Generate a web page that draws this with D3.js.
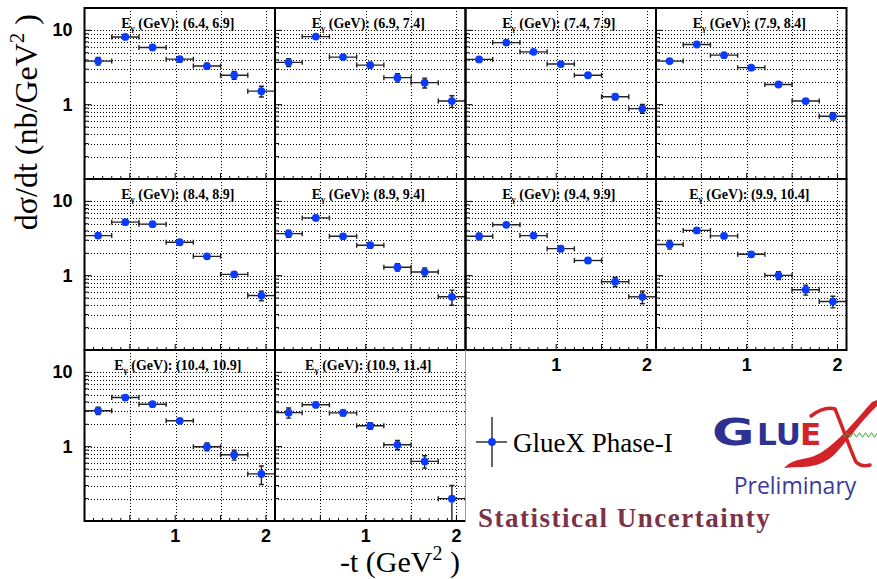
<!DOCTYPE html>
<html>
<head>
<meta charset="utf-8">
<script src="https://cdn.jsdelivr.net/npm/d3@7"></script>
<style>
  body { margin: 0; background: #fff; }
  svg { display: block; }
</style>
</head>
<body>
<svg id="chart" width="877" height="579"></svg>
<script>
// -t bins (GeV^2) and the point positions inside them
const binEdges = [0, 0.3, 0.6, 0.9, 1.2, 1.5, 1.8, 2.1];
const tValues = [0.15, 0.45, 0.75, 1.05, 1.35, 1.65, 1.95];

// beam energy bins, one per panel
const energyBins = ['(6.4, 6.9]', '(6.9, 7.4]', '(7.4, 7.9]', '(7.9, 8.4]', '(8.4, 8.9]',
                    '(8.9, 9.4]', '(9.4, 9.9]', '(9.9, 10.4]', '(10.4, 10.9]', '(10.9, 11.4]'];

// dsigma/dt (nb/GeV^2) and statistical errors
const xsec_64 = [3.86, 8.15, 5.88, 4.10, 3.31, 2.49, 1.52];
const err_64  = [0.45, 0.50, 0.35, 0.30, 0.30, 0.30, 0.25];
const xsec_69 = [3.71, 8.24, 4.37, 3.41, 2.31, 1.98, 1.12];
const err_69  = [0.45, 0.50, 0.30, 0.30, 0.30, 0.30, 0.20];
const xsec_74 = [4.07, 6.85, 5.14, 3.52, 2.49, 1.28, 0.885];
const err_74  = [0.25, 0.40, 0.30, 0.25, 0.15, 0.12, 0.12];
const xsec_79 = [3.86, 6.45, 4.64, 3.15, 1.87, 1.12, 0.70];
const err_79  = [0.20, 0.35, 0.25, 0.20, 0.10, 0.08, 0.08];
const xsec_84 = [3.46, 5.25, 4.94, 2.82, 1.82, 1.04, 0.54];
const err_84  = [0.25, 0.30, 0.25, 0.20, 0.12, 0.08, 0.08];
const xsec_89 = [3.68, 5.99, 3.39, 2.57, 1.30, 1.12, 0.52];
const err_89  = [0.40, 0.35, 0.25, 0.20, 0.15, 0.15, 0.12];
const xsec_94 = [3.39, 4.84, 3.46, 2.31, 1.60, 0.83, 0.52];
const err_94  = [0.35, 0.30, 0.25, 0.20, 0.12, 0.12, 0.10];
const xsec_99 = [2.63, 4.07, 3.43, 1.94, 1.01, 0.647, 0.449];
const err_99  = [0.35, 0.30, 0.25, 0.15, 0.12, 0.10, 0.08];
const xsec_104 = [3.05, 4.58, 3.73, 2.23, 1.00, 0.78, 0.43];
const err_104  = [0.35, 0.30, 0.25, 0.15, 0.12, 0.12, 0.12];
const xsec_109 = [2.87, 3.66, 2.85, 1.91, 1.06, 0.634, 0.20];
const err_109  = [0.45, 0.30, 0.25, 0.20, 0.15, 0.12, 0.10];

const yTickLabels = [1, 10];
const xTickLabels = [1, 2];

const allXsec = [xsec_64, xsec_69, xsec_74, xsec_79, xsec_84, xsec_89, xsec_94, xsec_99, xsec_104, xsec_109];
const allErr  = [err_64, err_69, err_74, err_79, err_84, err_89, err_94, err_99, err_104, err_109];

// layout
const pad_left = 84.5, pad_top = 8;
const colW = 190.5, rowH = 171;
const nCols = 4;
const markerColor = '#0a3cff';
const barColor = '#222';

const svg = d3.select('#chart');
const defs = svg.append('defs');

const x = d3.scaleLinear().domain([0, 2.1]).range([0, colW]);
const y = d3.scaleLog().domain([0.1, 20]).range([rowH, 0]);

defs.append('clipPath').attr('id', 'panelClip')
  .append('rect').attr('x', 0).attr('y', 0).attr('width', colW).attr('height', rowH);

energyBins.forEach((bin, i) => {
  const col = i % nCols, row = Math.floor(i / nCols);
  const g = svg.append('g')
    .attr('transform', `translate(${pad_left + col * colW},${pad_top + row * rowH})`);

  const pts = tValues.map((t, k) => ({
    t: t, lo: binEdges[k], hi: binEdges[k + 1], v: allXsec[i][k], e: allErr[i][k]
  }));

  // dotted grid
  const grid = g.append('g').attr('stroke', '#000').attr('stroke-width', 1)
    .attr('stroke-dasharray', '1,2').attr('shape-rendering', 'crispEdges');
  grid.selectAll('.hg')
    .data(y.ticks().filter(d => d > 0.1 && d < 20))
    .join('line')
      .attr('x1', 0).attr('x2', colW)
      .attr('y1', d => Math.round(y(d)) + 0.5).attr('y2', d => Math.round(y(d)) + 0.5);
  grid.selectAll('.vg')
    .data(x.ticks(4).filter(d => d > 0))
    .join('line')
      .attr('x1', d => Math.round(x(d)) + 0.5).attr('x2', d => Math.round(x(d)) + 0.5)
      .attr('y1', 0).attr('y2', rowH);

  // inner ticks, bottom
  g.append('g').selectAll('line')
    .data(x.ticks(21).filter(d => d > 0 && d < 2.1))
    .join('line')
      .attr('x1', d => x(d)).attr('x2', d => x(d))
      .attr('y1', rowH).attr('y2', d => rowH - (Math.abs(d * 2 - Math.round(d * 2)) < 1e-6 ? 6 : 3))
      .attr('stroke', '#000').attr('stroke-width', 1);
  // inner ticks, left
  g.append('g').selectAll('line')
    .data(y.ticks().filter(d => d > 0.1 && d < 20))
    .join('line')
      .attr('x1', 0).attr('x2', d => (yTickLabels.includes(d) ? 7 : 4))
      .attr('y1', d => y(d)).attr('y2', d => y(d))
      .attr('stroke', '#000').attr('stroke-width', 1);

  // data
  const dg = g.append('g').attr('clip-path', 'url(#panelClip)');
  const bars = dg.selectAll('g.pt').data(pts).join('g').attr('class', 'pt')
    .attr('stroke', barColor).attr('stroke-width', 1.4);
  bars.append('line')
    .attr('x1', d => x(d.lo)).attr('x2', d => x(d.hi))
    .attr('y1', d => y(d.v)).attr('y2', d => y(d.v));
  bars.append('line')
    .attr('x1', d => x(d.lo)).attr('x2', d => x(d.lo))
    .attr('y1', d => y(d.v) - 2.5).attr('y2', d => y(d.v) + 2.5);
  bars.append('line')
    .attr('x1', d => x(d.hi)).attr('x2', d => x(d.hi))
    .attr('y1', d => y(d.v) - 2.5).attr('y2', d => y(d.v) + 2.5);
  bars.append('line')
    .attr('x1', d => x(d.t)).attr('x2', d => x(d.t))
    .attr('y1', d => y(Math.max(d.v - d.e, 0.05))).attr('y2', d => y(d.v + d.e));
  bars.append('line')
    .attr('x1', d => x(d.t) - 2.5).attr('x2', d => x(d.t) + 2.5)
    .attr('y1', d => y(d.v + d.e)).attr('y2', d => y(d.v + d.e));
  bars.append('line')
    .attr('x1', d => x(d.t) - 2.5).attr('x2', d => x(d.t) + 2.5)
    .attr('y1', d => y(Math.max(d.v - d.e, 0.05))).attr('y2', d => y(Math.max(d.v - d.e, 0.05)));
  bars.append('circle')
    .attr('cx', d => x(d.t)).attr('cy', d => y(d.v)).attr('r', 3.9)
    .attr('fill', markerColor).attr('stroke', 'none');

  // frame
  if (i === energyBins.length - 1) {
    g.append('path').attr('d', `M${colW},0 L0,0 L0,${rowH} L${colW},${rowH}`)
      .attr('fill', 'none').attr('stroke', '#000').attr('stroke-width', 2);
    g.append('line').attr('x1', colW).attr('x2', colW).attr('y1', 0).attr('y2', rowH)
      .attr('stroke', '#999').attr('stroke-width', 1);
  } else {
    g.append('rect').attr('width', colW).attr('height', rowH)
      .attr('fill', 'none').attr('stroke', '#000').attr('stroke-width', 2);
  }

  // panel title
  const title = g.append('text')
    .attr('x', colW / 2 - 2).attr('y', 20)
    .attr('text-anchor', 'middle')
    .style('font', 'bold 14px "Liberation Serif", "Times New Roman", serif');
  title.append('tspan').text('E');
  title.append('tspan').attr('dy', 3).attr('font-size', 9).text('γ');
  title.append('tspan').attr('dy', -3).text(` (GeV): ${bin}`);

  // y labels on the first column
  if (col === 0) {
    g.selectAll('.ylab').data(yTickLabels).join('text')
      .attr('x', -12).attr('y', d => y(d) + 6)
      .attr('text-anchor', 'end')
      .style('font', 'bold 18px "Liberation Sans", Arial, sans-serif')
      .text(d => d);
  }
  // x labels where there is no panel below
  if (i + nCols >= energyBins.length) {
    g.selectAll('.xlab').data(xTickLabels).join('text')
      .attr('x', d => x(d)).attr('y', rowH + 21)
      .attr('text-anchor', 'middle')
      .style('font', 'bold 18px "Liberation Sans", Arial, sans-serif')
      .text(d => d);
  }
});

// axis titles
const yTitle = svg.append('text')
  .attr('transform', 'translate(37,14) rotate(-90)')
  .attr('text-anchor', 'end')
  .attr('font-family', 'Liberation Serif, Times New Roman, serif')
  .attr('font-size', 32);
yTitle.append('tspan').text('dσ/dt (nb/GeV');
yTitle.append('tspan').attr('dy', -13).attr('font-size', 21).text('2');
yTitle.append('tspan').attr('dy', 13).text(' )');

const xTitle = svg.append('text')
  .attr('x', 460).attr('y', 572)
  .attr('text-anchor', 'end')
  .attr('font-family', 'Liberation Serif, Times New Roman, serif')
  .attr('font-size', 30);
xTitle.append('tspan').text('-t (GeV');
xTitle.append('tspan').attr('dy', -12).attr('font-size', 20).text('2');
xTitle.append('tspan').attr('dy', 12).text(' )');

// legend
const leg = svg.append('g');
leg.append('line').attr('x1', 476).attr('x2', 507).attr('y1', 442).attr('y2', 442)
  .attr('stroke', '#333').attr('stroke-width', 1.5);
leg.append('line').attr('x1', 492).attr('x2', 492).attr('y1', 417).attr('y2', 467)
  .attr('stroke', '#333').attr('stroke-width', 1.5);
leg.append('circle').attr('cx', 492).attr('cy', 442).attr('r', 3.9).attr('fill', markerColor);
leg.append('text').attr('x', 513).attr('y', 452)
  .style('font', '27px "Liberation Serif", "Times New Roman", serif')
  .text('GlueX Phase-I');

svg.append('text').attr('x', 478).attr('y', 527)
  .attr('fill', '#7b3348')
  .style('font', 'bold 27px "Liberation Serif", "Times New Roman", serif')
  .style('letter-spacing', '1.5px')
  .text('Statistical Uncertainty');

// GlueX logo
const logo = svg.append('g');
logo.append('text')
  .attr('transform', 'translate(712,445) scale(1.4,1)')
  .attr('fill', '#2e3192')
  .style('font', 'bold 37px "DejaVu Sans", sans-serif')
  .text('G');
logo.append('text').attr('x', 757).attr('y', 445)
  .attr('fill', '#2e3192')
  .style('font', 'bold 31px "DejaVu Sans", sans-serif')
  .text('LU');
logo.append('text').attr('x', 800).attr('y', 445)
  .attr('fill', '#d2232a')
  .style('font', 'bold 31px "DejaVu Sans", sans-serif')
  .text('E');
// script X: thick brush stroke and thin diagonal
logo.append('path')
  .attr('d', 'M784,468 C796,456 806,462 822,452 C840,440 856,420 872,402 L877,400 ' +
             'L877,406 C862,420 848,440 834,455 C818,470 800,466 784,468 Z')
  .attr('fill', '#d2232a');
logo.append('path')
  .attr('d', 'M811,416 C819,410 828,407 835,409 C843,428 850,449 856,462 C860,466 866,466 870,465')
  .attr('fill', 'none').attr('stroke', '#d2232a').attr('stroke-width', 3.5)
  .attr('stroke-linejoin', 'round').attr('stroke-linecap', 'round');
// wavy gluon line
const wave = d3.range(0, 35, 0.5).map(d => [843 + d, 435 + 2 * Math.sin(d * Math.PI / 3)]);
logo.append('path').attr('d', d3.line()(wave))
  .attr('fill', 'none').attr('stroke', '#3a9a3a').attr('stroke-width', 1);
logo.append('text').attr('x', 795).attr('y', 494)
  .attr('text-anchor', 'middle')
  .attr('fill', '#3b3b9a')
  .style('font', '23px "Open Sans", "DejaVu Sans", sans-serif')
  .text('Preliminary');
</script>
</body>
</html>
